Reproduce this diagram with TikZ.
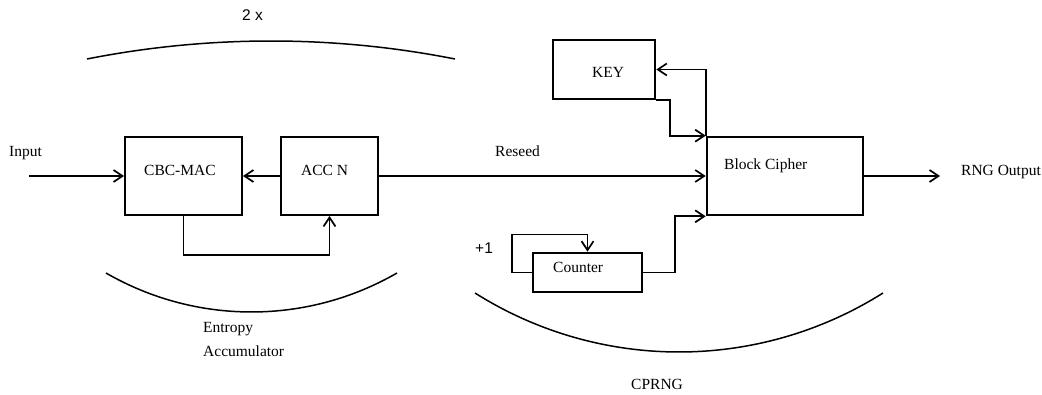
\documentclass[tikz,border=0pt]{standalone}
\usepackage{fontspec}
\setmainfont{Liberation Serif}
\newfontfamily\sansf{Liberation Sans}
\usetikzlibrary{arrows.meta}
\begin{document}
\begin{tikzpicture}[x=1pt,y=1pt,
  box/.style={draw,rectangle,inner sep=0pt,line width=1.9pt},
  thickbox/.style={box,line width=2.6pt},
  conn/.style={line width=1.7pt},
  arr/.style={conn,-{Straight Barb[length=9pt,width=12pt]}},
  curve/.style={line width=1.5pt},
  txt/.style={anchor=base west,inner sep=0pt,font=\fontsize{15.5}{18}\selectfont},
  stxt/.style={txt,font=\sansf\fontsize{15.5}{18}\selectfont}]
\useasboundingbox (0,0) rectangle (1042,-395);
% boxes
\node[box,minimum width=117pt,minimum height=78pt] (cbc) at (183.5,-176) {};
\node[box,minimum width=97pt,minimum height=78pt] (acc) at (329.5,-176) {};
\node[thickbox,minimum width=102pt,minimum height=59pt] (key) at (604,-69.5) {};
\node[thickbox,minimum width=156pt,minimum height=78pt] (bc) at (785,-176) {};
\node[thickbox,minimum width=109pt,minimum height=39pt] (ctr) at (587.5,-272.5) {};
% texts
\node[stxt] (twox) at (242,-21) {2 x};
\node[txt] (input) at (9,-157) {Input};
\node[txt] (tcbc) at (144,-176) {CBC-MAC};
\node[txt] (tacc) at (301,-176) {ACC N};
\node[txt] (treseed) at (495,-157) {Reseed};
\node[txt] (tkey) at (592,-78) {KEY};
\node[txt] (tbc) at (724,-170) {Block Cipher};
\node[txt] (tctr) at (553,-273) {Counter};
\node[stxt] (tplus) at (475,-254) {+1};
\node[txt] (tout) at (961,-176) {RNG Output};
\node[txt] (tent) at (203,-333) {Entropy};
\node[txt] (tacm) at (203,-357) {Accumulator};
\node[txt] (tcprng) at (631,-390) {CPRNG};
% connector end points
\coordinate (in) at (29,-176);
\coordinate (out) at (940,-176);
% connectors
\draw[arr] (in) -- (cbc.west);
\draw[arr] (acc.west) -- (cbc.east);
\draw[arr] (cbc.south) -- ++(0,-39) -| (acc.south);
\draw[arr] (acc.east) -- (bc.west);
\draw[arr] (bc.north west) |- (key.east);
\draw[arr] (key.south east) -- ++(14,0) |- (bc.north west);
\draw[arr] (ctr.west) -- ++(-20,0) -- ++(0,38) -| (ctr.north);
\draw[arr] (ctr.east) -- ++(32,0) |- (bc.south west);
\draw[arr] (bc.east) -- (out);
% arcs
\draw[curve] (87,-59) arc[start angle=101.18,end angle=78.82,radius=949];
\draw[curve] (106,-273) arc[start angle=240,end angle=300,radius=291];
\draw[curve] (475,-293) arc[start angle=237.74,end angle=302.26,radius=382.2];
\end{tikzpicture}
\end{document}
